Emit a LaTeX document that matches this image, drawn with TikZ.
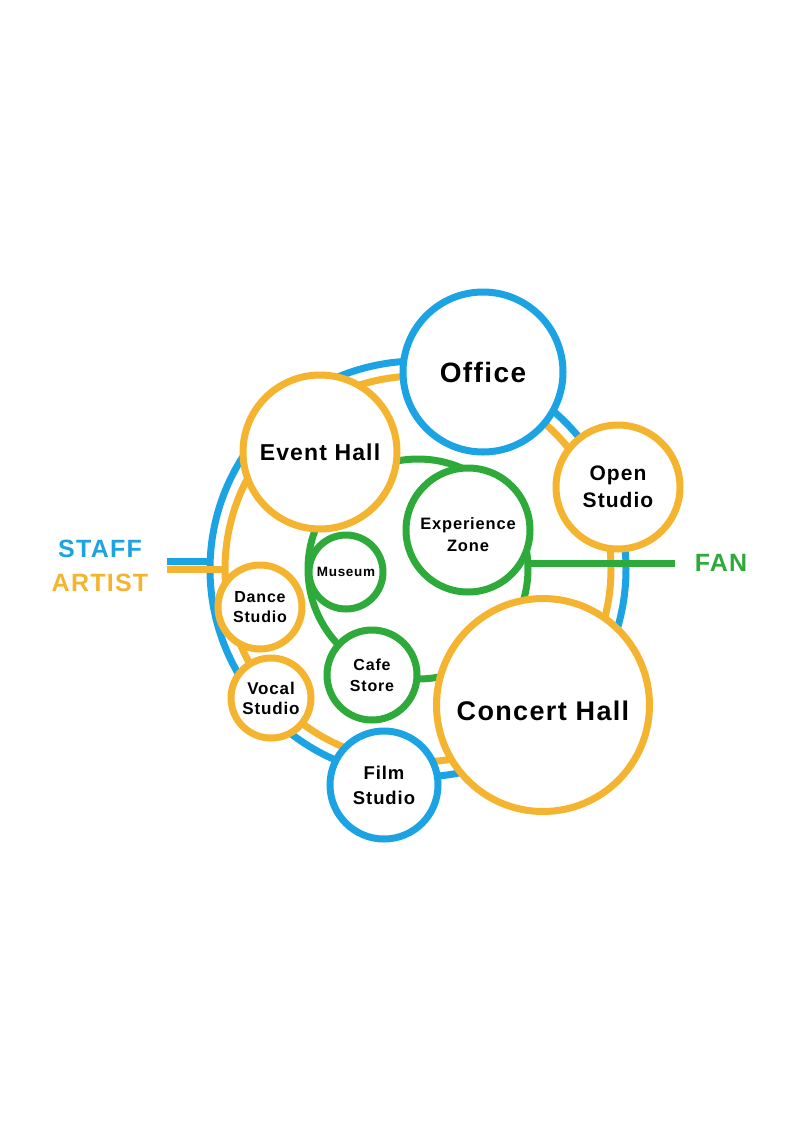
\documentclass[tikz,border=0pt]{standalone}
\usepackage{fontspec}
\setmainfont{Liberation Sans}[LetterSpace=5]
\definecolor{cblue}{HTML}{1BA3E3}
\definecolor{corange}{HTML}{F5B430}
\definecolor{cgreen}{HTML}{2DAA3A}
\newcommand{\fs}[2]{\fontsize{#1}{#2}\selectfont\bfseries}
\begin{document}
\begin{tikzpicture}[x=1pt,y=-1pt,line width=7pt,
  room/.style={circle,draw,fill=white,inner sep=0pt,align=center,minimum size=#1},
  lowtext/.style={inner sep=0pt,align=center,yshift=#1},
  lbl/.style={inner sep=0pt,font=\fs{25}{30}}]
\useasboundingbox (0,0) rectangle (800,1130);
% rings
\coordinate (ctr) at (418,569);
\draw[cblue] (ctr) circle (208pt);
\draw[corange] (ctr) circle (193pt);
\draw[cgreen] (ctr) circle (110pt);
% entry coordinates
\coordinate (staffA) at (167,561.5);
\coordinate (staffB) at (213,561.5);
\coordinate (artA) at (167,569.5);
\coordinate (artB) at (228,569.5);
\coordinate (fanA) at (527,563);
\coordinate (fanB) at (675,563);
\draw[cblue] (staffA) -- (staffB);
\draw[corange] (artA) -- (artB);
\draw[cgreen] (fanA) -- (fanB);
% labels
\node[lbl,text=cblue] (staff) at (100,549) {STAFF};
\node[lbl,text=corange] (artist) at (100,583) {ARTIST};
\node[lbl,text=cgreen] (fan) at (721,563) {FAN};
% rooms
\node[room=160pt,draw=cblue,font=\fs{28}{32}] (office) at (483,372) {Office};
\node[room=154pt,draw=corange,font=\fs{23}{28}] (event) at (320,452) {Event Hall};
\node[room=124pt,draw=corange,font=\fs{21}{27}] (open) at (618,487) {Open\\Studio};
\node[room=124pt,draw=cgreen,
  label={[lowtext=-5pt,font=\fs{16.5}{22}]center:{Experience\\Zone}}] (exp) at (468,530) {};
\node[room=74pt,draw=cgreen,font=\fs{13.5}{16}] (museum) at (346,572) {Museum};
\node[room=84pt,draw=corange,font=\fs{16}{20}] (dance) at (260,607) {Dance\\Studio};
\node[room=80pt,draw=corange,font=\fs{17}{20}] (vocal) at (271,698) {Vocal\\Studio};
\node[room=90pt,draw=cgreen,font=\fs{16}{21}] (cafe) at (372,675) {Cafe\\Store};
\node[room=108pt,draw=cblue,font=\fs{18.5}{25}] (film) at (384,785) {Film\\Studio};
\node[room=213pt,draw=corange,
  label={[lowtext=-6pt,font=\fs{27}{30}]center:{Concert Hall}}] (concert) at (543,705) {};
\end{tikzpicture}
\end{document}
